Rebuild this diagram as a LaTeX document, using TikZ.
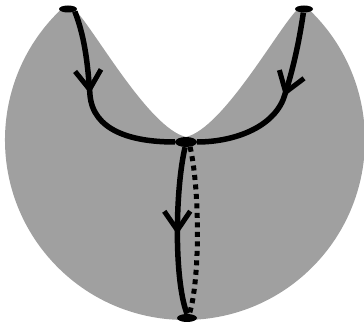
\documentclass[tikz,border=0pt]{standalone}
\usetikzlibrary{arrows.meta,shapes.geometric,decorations.markings}
\definecolor{surfacegray}{RGB}{160,160,160}
\tikzset{
  dot/.style={ellipse,fill=black,inner sep=0pt},
  branch/.style={line width=5.5pt,draw=black},
  midarrow/.style={postaction={decorate},decoration={markings,
     mark=at position #1 with {\arrow{Straight Barb[length=19pt,width=26pt,line width=5pt]}}}},
  dotline/.style={line width=5pt,dash pattern=on 5pt off 4.5pt}
}
\begin{document}
\begin{tikzpicture}[x=1pt,y=-1pt]
\useasboundingbox (0,0) rectangle (364,328);
% gray surface
\fill[surfacegray] (61.3,9.2) arc[start angle=226.6,end angle=-46.6,radius=180]
  -- (298,9) .. controls (280,25) and (224,128) .. (186,137)
  .. controls (148,128) and (92,25) .. (74,9) -- cycle;
% nodes
\node[dot,minimum width=18pt,minimum height=7pt] (L) at (68,9) {};
\node[dot,minimum width=18pt,minimum height=7pt] (R) at (304,9) {};
\node[dot,minimum width=22pt,minimum height=10pt] (M) at (186,142) {};
\node[dot,minimum width=20pt,minimum height=8pt] (B) at (187,318) {};
% branches
\draw[branch,midarrow=84pt] (L.-20) .. controls (86,40) and (88,70) .. (90,95)
  .. controls (93,130) and (130,142) .. (M.west);
\draw[branch,midarrow=86pt] (R.-100) .. controls (298,50) and (290,80) .. (283,100)
  .. controls (270,130) and (230,142) .. (M.east);
\draw[branch,midarrow=88pt] (M.-100) .. controls (175,190) and (174,280) .. (B.north);
\draw[dotline] (M.-50) .. controls (200,190) and (200,280) .. (B.60);
\end{tikzpicture}
\end{document}
